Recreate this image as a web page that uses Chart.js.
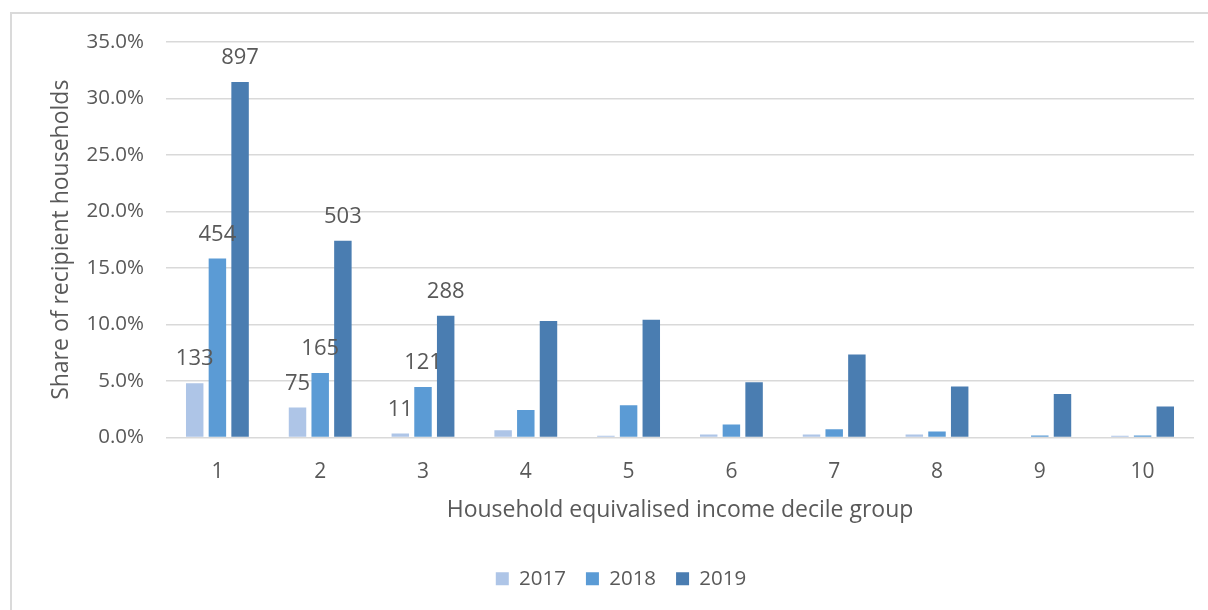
<!DOCTYPE html>
<html>
<head>
<meta charset="utf-8">
<script src="https://cdn.jsdelivr.net/npm/chart.js@4.4.1/dist/chart.umd.min.js"></script>
<style>
  html, body { margin: 0; padding: 0; background: #fff; overflow: hidden; }
  #frame { position: absolute; left: 10px; top: 12px; width: 1300px; height: 700px; border: 2px solid #dadada; }
  #c { position: absolute; left: 0; top: 0; }
</style>
</head>
<body>
<div id="frame"></div>
<canvas id="c" width="1208" height="610"></canvas>
<script>
// Household equivalised income decile groups
const deciles = ['1', '2', '3', '4', '5', '6', '7', '8', '9', '10'];
const years = ['2017', '2018', '2019'];

// Share of recipient households (%) by decile
const share2017 = [4.8, 2.65, 0.35, 0.65, 0.15, 0.26, 0.26, 0.26, 0, 0.15];
const share2018 = [15.83, 5.7, 4.47, 2.44, 2.86, 1.16, 0.73, 0.52, 0.17, 0.17];
const share2019 = [31.47, 17.42, 10.77, 10.3, 10.42, 4.88, 7.35, 4.52, 3.85, 2.75];

// Number of recipient households, shown for the lowest three deciles
const count2017 = [133, 75, 11, null, null, null, null, null, null, null];
const count2018 = [454, 165, 121, null, null, null, null, null, null, null];
const count2019 = [897, 503, 288, null, null, null, null, null, null, null];

// Y axis ticks (%)
const yTicks = [0, 5, 10, 15, 20, 25, 30, 35];

const seriesColors = ['#AEC5E7', '#5B9BD5', '#4A7DB1'];
const textColor = '#595959';
const fontFamily = '"Open Sans", "Noto Sans", sans-serif';

const countLabels = [count2017, count2018, count2019];

// Writes the household counts above their bars
const barCountPlugin = {
  id: 'barCounts',
  afterDatasetsDraw(chart) {
    const ctx = chart.ctx;
    ctx.save();
    ctx.font = '22px ' + fontFamily;
    ctx.fillStyle = textColor;
    ctx.textAlign = 'center';
    ctx.textBaseline = 'alphabetic';
    chart.data.datasets.forEach((ds, i) => {
      const meta = chart.getDatasetMeta(i);
      meta.data.forEach((bar, j) => {
        const n = countLabels[i][j];
        if (n === null || n === undefined) return;
        ctx.fillText(String(n), bar.x, bar.y - 18);
      });
    });
    ctx.restore();
  }
};

function draw() {
  new Chart(document.getElementById('c'), {
    type: 'bar',
    data: {
      labels: deciles,
      datasets: [
        { label: years[0], data: share2017, backgroundColor: seriesColors[0] },
        { label: years[1], data: share2018, backgroundColor: seriesColors[1] },
        { label: years[2], data: share2019, backgroundColor: seriesColors[2] }
      ]
    },
    options: {
      responsive: false,
      animation: false,
      devicePixelRatio: 1,
      datasets: {
        bar: { categoryPercentage: 0.662, barPercentage: 0.77 }
      },
      layout: { padding: { left: 48, right: 14, top: 42, bottom: 11 } },
      plugins: {
        tooltip: { enabled: false },
        legend: {
          position: 'bottom',
          labels: {
            boxWidth: 13,
            boxHeight: 13,
            padding: 20,
            color: textColor,
            font: { family: fontFamily, size: 20.5 }
          }
        }
      },
      scales: {
        x: {
          grid: { display: false, drawTicks: false },
          border: { display: false },
          ticks: {
            color: textColor,
            font: { family: fontFamily, size: 21 },
            padding: 22,
            maxRotation: 0
          },
          title: {
            display: true,
            text: 'Household equivalised income decile group',
            color: textColor,
            font: { family: fontFamily, size: 23 },
            padding: { top: 0, bottom: 24 }
          },
          afterFit(scale) { scale.height = 111; }
        },
        y: {
          min: yTicks[0],
          max: yTicks[yTicks.length - 1],
          grid: { color: '#d9d9d9', lineWidth: 1.5, drawTicks: false },
          border: { display: false },
          afterBuildTicks(scale) { scale.ticks = yTicks.map(v => ({ value: v })); },
          ticks: {
            color: textColor,
            font: { family: fontFamily, size: 20.5 },
            padding: 22,
            callback: v => v.toFixed(1) + '%'
          },
          title: {
            display: true,
            text: 'Share of recipient households',
            color: textColor,
            font: { family: fontFamily, size: 23 },
            padding: { top: 0, bottom: 0 }
          },
          afterFit(scale) { scale.width = 118; }
        }
      }
    },
    plugins: [barCountPlugin]
  });
}

if (document.fonts && document.fonts.load) {
  document.fonts.load('20px "Open Sans"').then(draw, draw);
} else {
  draw();
}
</script>
</body>
</html>
